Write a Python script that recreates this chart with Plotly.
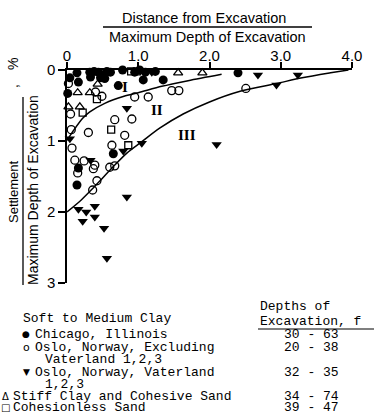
import plotly.graph_objects as go

# ---------------- data ----------------
chicago_x = [0.14, 0.32, 0.38, 0.44, 0.50, 0.56, 0.61, 0.70, 0.78, 0.95, 1.02, 1.10, 1.16, 1.24, 2.40,
             0.04, 0.16, 0.33, 0.47, 0.53, 0.72, 1.07, 1.35, 0.01, 0.65, 0.16, 0.14]
chicago_y = [0.04, 0.03, 0.02, 0.03, 0.07, 0.02, 0.03, -0.01, 0.00, 0.03, 0.00, 0.03, -0.01, 0.02, 0.04,
             0.11, 0.17, 0.10, 0.11, 0.12, 0.22, 0.14, 0.14, 0.33, 1.18, 1.38, 1.62]

oslo_x = [0.02, 0.40, 0.49, 0.95, 1.14, 1.47, 1.57, 2.51, 0.05, 0.67, 0.91, 0.06, 0.30, 0.81, 0.07,
          0.63, 0.11, 0.24, 0.39, 0.37, 0.15, 0.60, 0.67, 0.42, 0.36]
oslo_y = [0.19, 0.31, 0.37, 0.38, 0.38, 0.29, 0.29, 0.26, 0.62, 0.70, 0.69, 0.84, 0.88, 0.92, 1.10,
          1.06, 1.27, 1.28, 1.34, 1.39, 1.45, 1.37, 1.35, 1.56, 1.69]

vaterland_x = [1.19, 2.68, 3.24, 2.94, 0.84, 0.04, 1.05, 0.79, 0.33, 2.10, 0.84, 0.16, 0.27, 0.39,
               0.22, 0.39, 0.52, 0.56]
vaterland_y = [0.03, 0.07, 0.07, 0.21, 0.54, 0.97, 1.03, 1.14, 1.27, 1.05, 1.79, 1.96, 2.00, 1.92,
               2.13, 2.07, 2.23, 2.65]

stiff_x = [1.56, 1.90, 0.43, 0.15, 0.32, 0.02, 0.18]
stiff_y = [0.04, 0.04, 0.20, 0.32, 0.32, 0.52, 0.52]

sand_x = [0.90, 0.98, 0.42, 0.22, 0.62, 0.86]
sand_y = [0.02, 0.02, 0.41, 0.60, 0.84, 1.06]

curve1_x = [0, 0.10, 0.22, 0.32, 0.53, 0.80, 1.00, 1.33, 1.70, 2.17]
curve1_y = [0.99, 0.84, 0.68, 0.59, 0.47, 0.37, 0.32, 0.23, 0.15, 0.06]

curve2_x = [0, 0.20, 0.36, 0.50, 0.65, 0.84, 1.05, 1.30, 1.63, 2.00, 2.43, 2.94, 3.30, 3.70, 3.95]
curve2_y = [2.00, 1.83, 1.67, 1.52, 1.36, 1.17, 1.01, 0.82, 0.62, 0.45, 0.30, 0.19, 0.11, 0.04, 0.00]

x_ticks = [0, 1, 2, 3, 4]
x_ticktext = ["0", "1.0", "2.0", "3.0", "4.0"]
y_ticks = [0, 1, 2, 3]
y_ticktext = ["0", "1", "2", "3"]

zone_labels = ["I", "II", "III"]
zone_x = [0.82, 1.27, 1.68]
zone_y = [0.24, 0.56, 0.92]

legend_groups = ["Soft to Medium Clay"]
legend_items = ["Chicago, Illinois", "Oslo, Norway, Excluding", "Vaterland 1,2,3",
                "Oslo, Norway, Vaterland", "1,2,3", "Stiff Clay and Cohesive Sand", "Cohesionless Sand"]
legend_symbols = ["●", "o", "▼", "Δ", "□"]
depth_header = ["Depths of", "Excavation, f"]
depth_ranges = ["30 - 63", "20 - 38", "32 - 35", "34 - 74", "39 - 47"]

# ---------------- figure ----------------
W, H = 374, 414
L, R, T, B = 67, 22, 70, 131


def px(x):
    return (x - L) / (W - L - R)


def py(y):
    return 1 - (y - T) / (H - T - B)


fig = go.Figure()

line_style = dict(color="black", width=1.5, shape="spline", smoothing=0.8)
fig.add_trace(go.Scatter(x=curve1_x, y=curve1_y, mode="lines", line=line_style, hoverinfo="skip"))
fig.add_trace(go.Scatter(x=curve2_x, y=curve2_y, mode="lines", line=line_style, hoverinfo="skip"))

fig.add_trace(go.Scatter(x=oslo_x, y=oslo_y, mode="markers", cliponaxis=False,
                         marker=dict(symbol="circle-open", size=8, color="black", line=dict(width=1.3))))
fig.add_trace(go.Scatter(x=sand_x, y=sand_y, mode="markers", cliponaxis=False,
                         marker=dict(symbol="square-open", size=7, color="black", line=dict(width=1.3))))
fig.add_trace(go.Scatter(x=stiff_x, y=stiff_y, mode="markers", cliponaxis=False,
                         marker=dict(symbol="triangle-up-open", size=8, color="black", line=dict(width=1.3))))
fig.add_trace(go.Scatter(x=chicago_x, y=chicago_y, mode="markers", cliponaxis=False,
                         marker=dict(symbol="circle", size=9, color="black")))
fig.add_trace(go.Scatter(x=vaterland_x, y=vaterland_y, mode="markers", cliponaxis=False,
                         marker=dict(symbol="triangle-down", size=9, color="black")))

for t, x, y in zip(zone_labels, zone_x, zone_y):
    fig.add_annotation(x=x, y=y, text="<b>%s</b>" % t, showarrow=False,
                       font=dict(family="Liberation Serif, serif", size=15, color="black"))

ann = []
sans = "Liberation Sans, Arial, sans-serif"
mono = "Courier New, Liberation Mono, monospace"


def text(x, y, s, size=14.5, family=sans, xanchor="center", angle=0):
    ann.append(dict(xref="paper", yref="paper", x=px(x), y=py(y), text=s, showarrow=False,
                    xanchor=xanchor, yanchor="middle", textangle=angle,
                    font=dict(family=family, size=size, color="black")))


# top title (fraction)
text(204, 18, "Distance from Excavation")
text(207, 37, "Maximum Depth of Excavation")
# left title (fraction, rotated)
text(13, 192, "Settlement", size=13, angle=-90)
text(33, 190, "Maximum Depth of Excavation", size=14, angle=-90)
text(13, 86, ",", size=14, angle=-90)
text(13, 64, "%", size=14, angle=-90)

# legend block
lw = 13
text(21, 318, legend_groups[0], size=lw, family=mono, xanchor="left")
text(258, 306, depth_header[0], size=lw, family=mono, xanchor="left")
text(258, 321, depth_header[1], size=lw, family=mono, xanchor="left")
rows_y = [334, 347, 359, 372, 384, 396, 407]
item_x = [33, 33, 43, 33, 43, 11, 11]
for s, x, y in zip(legend_items, item_x, rows_y):
    text(x, y, s, size=lw, family=mono, xanchor="left")
sym_x = [26, 26, 26, 5, 5]
sym_y = [rows_y[0], rows_y[1], rows_y[3], rows_y[5], rows_y[6]]
sym_size = [9, 11, 9, 10, 10]
for s, x, y, sz in zip(legend_symbols, sym_x, sym_y, sym_size):
    text(x, y, s, size=sz, family="DejaVu Sans, sans-serif")
for s, y in zip(depth_ranges, sym_y):
    text(282, y, s, size=lw, family=mono, xanchor="left")

fig.update_layout(annotations=list(fig.layout.annotations) + ann)

shapes = [
    dict(type="line", xref="paper", yref="paper", x0=px(103), x1=px(312), y0=py(27), y1=py(27),
         line=dict(color="black", width=1.3)),
    dict(type="line", xref="paper", yref="paper", x0=px(23), x1=px(23), y0=py(97), y1=py(285),
         line=dict(color="black", width=1.3)),
    dict(type="line", xref="paper", yref="paper", x0=px(258), x1=px(374), y0=py(329), y1=py(329),
         line=dict(color="black", width=1.2)),
]

fig.update_layout(
    width=W, height=H,
    margin=dict(l=L, r=R, t=T, b=B, pad=0),
    paper_bgcolor="white", plot_bgcolor="white",
    showlegend=False,
    shapes=shapes,
    xaxis=dict(range=[0, 4], side="top", tickvals=x_ticks, ticktext=x_ticktext,
               ticks="outside", ticklen=1, tickwidth=1.5, tickcolor="black",
               minor=dict(tickvals=x_ticks, ticks="outside", ticklen=6, tickwidth=1.5,
                          tickcolor="black", showgrid=False),
               showline=True, linecolor="black", linewidth=1.5,
               showgrid=False, zeroline=False,
               tickfont=dict(family=sans, size=15, color="black")),
    yaxis=dict(range=[3, 0], tickvals=y_ticks, ticktext=y_ticktext,
               ticks="outside", ticklen=7, tickwidth=1.5, tickcolor="black",
               showline=True, linecolor="black", linewidth=1.5,
               showgrid=False, zeroline=False,
               tickfont=dict(family=sans, size=15, color="black")),
)

fig.write_html("out.html")
